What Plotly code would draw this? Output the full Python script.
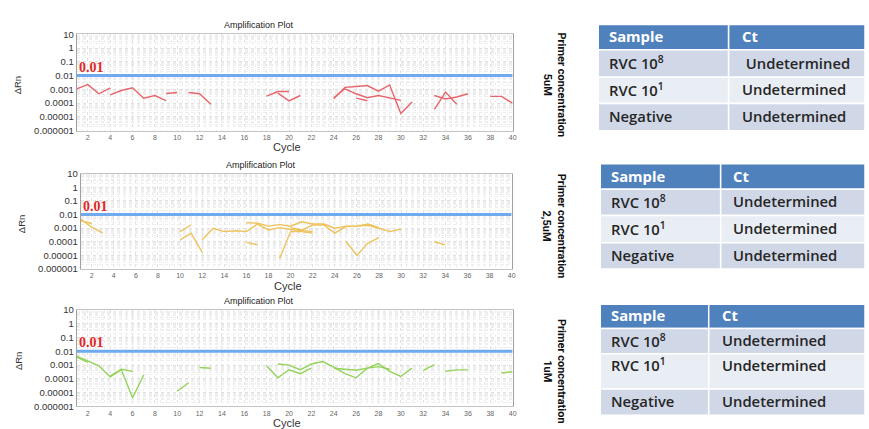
import plotly.graph_objects as go

W, H = 869, 429

# ---------------- data ----------------
cycles_axis = list(range(2, 41, 2))
y_tick_vals = [10, 1, 0.1, 0.01, 0.001, 0.0001, 0.00001, 0.000001]
y_tick_text = ["10", "1", "0.1", "0.01", "0.001", "0.0001", "0.00001", "0.000001"]
threshold = 0.01

# Primer 5uM (red)
c5_a = [1, 2, 3, 4];               v5_a = [0.0011, 0.0022, 0.00048, 0.0013]
c5_b = [4, 5, 6, 7, 8, 9];         v5_b = [0.0004, 0.00083, 0.0013, 0.00023, 0.00036, 0.00015]
c5_c = [9, 10];                    v5_c = [0.0005, 0.0006]
c5_d = [11, 12, 13];               v5_d = [0.0006, 0.00048, 0.000083]
c5_e = [18, 19, 20];               v5_e = [0.00032, 0.0007, 0.0007]
c5_f = [19, 20, 21];               v5_f = [0.00054, 0.000145, 0.00036]
c5_g = [24, 25, 26, 27, 28, 29, 30, 31]
v5_g = [0.00021, 0.0014, 0.0016, 0.0019, 0.00074, 0.0021, 0.000018, 0.000123]
c5_h = [24, 25, 26, 27, 28, 29, 30]
v5_h = [0.00025, 0.0011, 0.00048, 0.00025, 0.00036, 0.00025, 0.00016]
c5_i = [26, 27];                   v5_i = [0.00023, 0.00015]
c5_j = [33, 34, 35];               v5_j = [0.000035, 0.00063, 0.000083]
c5_k = [33, 34, 35, 36];           v5_k = [0.00036, 0.0002, 0.00028, 0.00048]
c5_l = [38, 39, 40];               v5_l = [0.00031, 0.00031, 0.0001]

# Primer 2,5uM (yellow)
c25_a = [1, 2, 3];                 v25_a = [0.0045, 0.0012, 0.00045]
c25_b = [1, 2];                    v25_b = [0.0035, 0.0022]
c25_c = [10, 11];                  v25_c = [0.00056, 0.0017]
c25_d = [10, 11, 12];              v25_d = [0.00014, 0.00043, 0.000017]
c25_e = [12, 13, 14, 15, 16, 17, 18, 19, 20, 21, 22]
v25_e = [0.00014, 0.00098, 0.00056, 0.00065, 0.00056, 0.002, 0.00074, 0.0011, 0.0008, 0.00063, 0.00056]
c25_f = [16, 17, 18, 19, 20, 21, 22, 23, 24, 25, 26, 27, 28, 29, 30]
v25_f = [0.0025, 0.0023, 0.0014, 0.0018, 0.0014, 0.0029, 0.002, 0.002, 0.00098, 0.0014, 0.0014,
         0.0016, 0.00098, 0.00056, 0.00087]
c25_g = [19, 20, 21, 22];          v25_g = [0.0000059, 0.00056, 0.00056, 0.00043]
c25_h = [20, 21, 22, 23, 24, 25, 26, 27, 28]
v25_h = [0.0011, 0.00073, 0.0017, 0.0017, 0.00043, 0.0013, 0.0014, 0.002, 0.0011]
c25_i = [25, 26, 27, 28];          v25_i = [0.00011, 0.00001, 0.00008, 0.0002]
c25_j = [33, 34];                  v25_j = [0.0001, 0.00006]
c25_k = [16, 17];                  v25_k = [0.00009, 0.00006]

# Primer 1uM (green)
c1_a = [1, 2, 3, 4, 5, 6, 7];      v1_a = [0.0045, 0.0021, 0.00087, 0.00014, 0.00046, 0.0000043, 0.00019]
c1_b = [1, 2];                     v1_b = [0.0038, 0.0016]
c1_c = [4, 5, 6];                  v1_c = [0.00016, 0.0005, 0.00035]
c1_d = [10, 11];                   v1_d = [0.0000126, 0.000052]
c1_e = [12, 13];                   v1_e = [0.00068, 0.0006]
c1_f = [18, 19, 20, 21, 22];       v1_f = [0.00087, 0.00012, 0.00046, 0.00024, 0.0006]
c1_g = [19, 20, 21, 22, 23, 24, 25, 26, 27, 28, 29, 30, 31]
v1_g = [0.0012, 0.001, 0.00046, 0.0012, 0.0018, 0.00071, 0.00024, 0.00012, 0.0006, 0.0013,
        0.00035, 0.00015, 0.0006]
c1_h = [24, 25, 26, 27, 28, 29];   v1_h = [0.0006, 0.0005, 0.00042, 0.0006, 0.00078, 0.0005]
c1_i = [32, 33];                   v1_i = [0.00041, 0.0011]
c1_j = [34, 35, 36];               v1_j = [0.00036, 0.00045, 0.00045]
c1_k = [39, 40];                   v1_k = [0.00027, 0.00033]

panel_labels = ["5uM", "2,5uM", "1uM"]
table_header = ["Sample", "Ct"]
samples = ["RVC 10<sup>8</sup>", "RVC 10<sup>1</sup>", "Negative"]
ct_5uM = [" Undetermined", "Undetermined", "Undetermined"]
ct_25uM = ["Undetermined", "Undetermined", "Undetermined"]
ct_1uM = ["Undetermined", "Undetermined", "Undetermined"]

panels = [
    dict(color="#E8666B", label=panel_labels[0], ct=ct_5uM,
         series=[(c5_a, v5_a), (c5_b, v5_b), (c5_c, v5_c), (c5_d, v5_d), (c5_e, v5_e), (c5_f, v5_f),
                 (c5_g, v5_g), (c5_h, v5_h), (c5_i, v5_i), (c5_j, v5_j), (c5_k, v5_k), (c5_l, v5_l)]),
    dict(color="#EEC35A", label=panel_labels[1], ct=ct_25uM,
         series=[(c25_a, v25_a), (c25_b, v25_b), (c25_c, v25_c), (c25_d, v25_d), (c25_e, v25_e),
                 (c25_f, v25_f), (c25_g, v25_g), (c25_h, v25_h), (c25_i, v25_i), (c25_j, v25_j),
                 (c25_k, v25_k)]),
    dict(color="#93D35A", label=panel_labels[2], ct=ct_1uM,
         series=[(c1_a, v1_a), (c1_b, v1_b), (c1_c, v1_c), (c1_d, v1_d), (c1_e, v1_e), (c1_f, v1_f),
                 (c1_g, v1_g), (c1_h, v1_h), (c1_i, v1_i), (c1_j, v1_j), (c1_k, v1_k)]),
]

# ---------------- layout geometry (pixels) ----------------
plot_boxes = [  # left, right, top, bottom
    (77, 515, 29, 128),
    (81, 514, 172, 270),
    (77, 515, 312, 411),
]
table_boxes = [
    dict(l=601, d=732, r=869, rows=[19, 45, 73, 100, 128], tx2=743, ty=None),
    dict(l=603, d=724, r=869, rows=[162, 188, 215, 243, 270], tx2=734, ty=None),
    dict(l=603, d=712, r=869, rows=[306, 331, 357, 393, 420], tx2=723, ty=[318.5, 344, 369, 406.5]),
]
side_label_y = [81, 226, 375]

def px(x):
    return x / W

def py(y):
    return 1 - y / H

fig = go.Figure()
shapes = []
annotations = []
layout_axes = {}

for i, p in enumerate(panels):
    n = i + 1
    xa = "x" if n == 1 else f"x{n}"
    ya = "y" if n == 1 else f"y{n}"
    l, r, t, b = plot_boxes[i]
    for cs, vs in p["series"]:
        fig.add_trace(go.Scatter(x=cs, y=vs, mode="lines", xaxis=xa, yaxis=ya,
                                 line=dict(color=p["color"], width=1.4), showlegend=False,
                                 hoverinfo="skip"))
    fig.add_trace(go.Scatter(x=[1, 40], y=[threshold, threshold], mode="lines", xaxis=xa, yaxis=ya,
                             line=dict(color="#6FAAEE", width=3), showlegend=False, hoverinfo="skip"))
    layout_axes[f"xaxis{n}" if n > 1 else "xaxis"] = dict(
        domain=[px(l), px(r)], anchor=ya, range=[1, 40], tickvals=cycles_axis,
        tickfont=dict(family="Liberation Sans", size=7, color="#666"),
        showline=True, linecolor="#C4C4C4", linewidth=1, mirror=True,
        showgrid=True, gridcolor="#E2E2E2", griddash="dot", gridwidth=1,
        minor=dict(dtick=0.5, showgrid=True, gridcolor="#EEEEEE", griddash="dot"),
        zeroline=False, ticks="", fixedrange=True)
    layout_axes[f"yaxis{n}" if n > 1 else "yaxis"] = dict(
        domain=[py(b), py(t)], anchor=xa, type="log", range=[-6, 1],
        tickvals=y_tick_vals, ticktext=y_tick_text,
        tickfont=dict(family="Liberation Sans", size=9.5, color="#333"),
        showline=True, linecolor="#A0A0A0", linewidth=1, mirror=True,
        showgrid=True, gridcolor="#E0E0E0", griddash="dot",
        minor=dict(dtick="D1", showgrid=True, gridcolor="#EEEEEE", griddash="dot"),
        zeroline=False, ticks="", fixedrange=True)
    cx = (l + r) / 2
    annotations += [
        dict(text="Amplification Plot", x=px(260 if i != 1 else 262), y=py(t - 9), xref="paper", yref="paper",
             showarrow=False, font=dict(family="Liberation Sans", size=9, color="#222"),
             xanchor="center", yanchor="middle"),
        dict(text="Cycle", x=px(cx - 8), y=py(b + 17), xref="paper", yref="paper",
             showarrow=False, font=dict(family="Liberation Sans", size=11, color="#333"),
             xanchor="center", yanchor="middle"),
        dict(text="ΔRn", x=px(18 if i != 1 else 21), y=py((t + b) / 2 + 2), xref="paper", yref="paper",
             textangle=-90, showarrow=False, font=dict(family="Liberation Sans", size=9.5, color="#333"),
             xanchor="center", yanchor="middle"),
        dict(text=f"{threshold}", x=1, y=-2, xref=xa, yref=ya, showarrow=False,
             xanchor="left", yanchor="bottom", yshift=-1,
             font=dict(family="Liberation Serif", size=14, color="#E02A2A", weight="bold")),
        dict(text=f"Primer concentration<br>{p['label']}", x=px(557), y=py(side_label_y[i]),
             xref="paper", yref="paper", textangle=90, showarrow=False,
             font=dict(family="Roboto", size=11, color="#111", weight="bold"),
             xanchor="center", yanchor="middle"),
    ]

    # table
    tb = table_boxes[i]
    rows = tb["rows"]
    fills = ["#4F81BD", "#D0D8E8", "#E9EDF4", "#D0D8E8"]
    for k in range(4):
        for (x0, x1) in [(tb["l"], tb["d"]), (tb["d"], tb["r"])]:
            shapes.append(dict(type="rect", xref="paper", yref="paper",
                               x0=px(x0), x1=px(x1), y0=py(rows[k + 1]), y1=py(rows[k]),
                               fillcolor=fills[k], line=dict(color="white", width=1.5), layer="below"))
    row_texts = [table_header] + [[samples[k], p["ct"][k]] for k in range(3)]
    for k in range(4):
        yc = tb["ty"][k] if tb["ty"] else (rows[k] + rows[k + 1]) / 2
        for j, txt in enumerate(row_texts[k]):
            xt = tb["l"] + 9 if j == 0 else tb["tx2"]
            annotations.append(dict(
                text=txt, x=px(xt), y=py(yc - 1), xref="paper", yref="paper", showarrow=False,
                xanchor="left", yanchor="middle",
                font=dict(family="Open Sans", size=14.8, color="white" if k == 0 else "#262626",
                          weight="bold" if k == 0 else 600)))

fig.update_layout(width=W, height=H, margin=dict(l=0, r=0, t=0, b=0),
                  paper_bgcolor="white", plot_bgcolor="white",
                  shapes=shapes, annotations=annotations, **layout_axes)
fig.write_html("out.html", config={"displayModeBar": False})
